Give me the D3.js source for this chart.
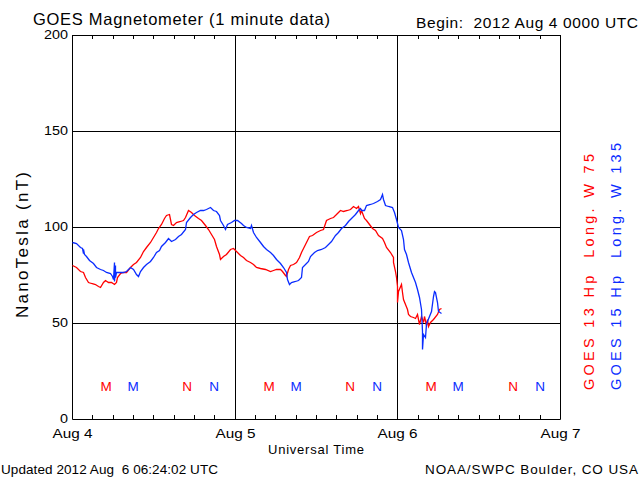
<!DOCTYPE html>
<html><head><meta charset="utf-8">
<script src="https://cdn.jsdelivr.net/npm/d3@7"></script>
<style>
body{margin:0;background:#fff}
svg{display:block}
text{font-family:"Liberation Sans",Arial,sans-serif;white-space:pre}
</style>
</head><body><svg id="c" width="640" height="480"></svg>
<script>
// ---- data ----
const dayLabels = ["Aug 4","Aug 5","Aug 6","Aug 7"];
const yTicks = [0,50,100,150,200];

// GOES 13 (red) : hours since 2012 Aug 4 00:00 UT, nT
const redHours = [0.03,0.62,1.11,1.6,1.99,2.33,2.84,3.32,3.81,4.16,
4.55,4.8,5.29,5.79,6.17,6.42,6.68,7.02,7.5,8.0,
8.49,8.98,9.48,9.97,10.46,10.96,11.45,11.93,12.33,12.67,
13.17,13.56,13.91,14.25,14.55,14.89,15.39,15.88,16.36,16.72,
17.1,17.5,17.99,18.58,19.08,19.57,20.06,20.56,20.94,21.3,
21.64,21.78,22.27,22.77,23.26,23.75,24.25,24.74,25.23,25.73,
26.21,26.7,27.2,27.69,28.43,29.17,29.66,30.16,30.65,31.04,
31.38,31.63,31.87,32.12,32.61,33.11,33.5,33.85,34.19,34.59,
34.97,35.48,35.96,36.55,37.04,37.54,38.03,38.52,39.02,39.51,
39.99,40.5,40.98,41.47,41.87,42.21,42.46,42.71,43.05,43.45,
43.83,44.19,44.68,45.16,45.67,46.01,46.4,46.89,47.29,47.38,
47.63,47.78,47.88,47.98,48.12,48.47,48.62,48.86,49.11,49.36,
49.59,49.84,50.33,50.58,50.83,51.07,51.22,51.43,51.72,51.91,
52.21,52.31,52.55,52.8,53.29,53.79,54.17,54.42];
const redValues = [80.4,79,77.3,76.4,73.8,71.2,70.7,70.3,69.5,68.9,
71.2,72.4,71.5,71.5,70.3,71.2,73.8,75.9,76.4,76.8,
79,80.8,81.6,84.2,87.7,89.5,92,94.7,97.3,99.6,
101.7,104.6,106.4,106.9,101.7,100.8,102.5,102.9,103.9,105.1,
108.6,107.7,106,104.6,103.4,101.1,99,96.4,93.8,90.3,
86,83.4,85.1,86,88.6,89,87.7,85.5,84.2,82.9,
82,80.8,79.4,78.5,78.1,77.3,77.8,78.1,78.1,77.3,
75,74.7,78.1,80.3,80.8,81.6,84.2,87.2,90.3,92.4,
95.2,95.9,97.3,98.2,99,103.4,104.6,105.1,106.9,108.6,
108.1,108.6,109.5,110.9,109.8,110.9,107.4,108.6,104.6,103.4,
101.7,99.4,98.2,95.9,94.1,92,89.5,86.8,84.2,81.6,
77.3,73.8,69.5,61,66.8,70.3,66,62.5,59.9,57.3,
54.7,53.8,53.3,52.6,54.7,52.1,49.5,53.8,50.3,53.8,
49.1,52.1,48.6,50.3,52.1,54.7,57.3,57.8];

// GOES 15 (blue)
const blueHours = [0.03,0.62,1.11,1.45,1.55,1.65,1.75,2.1,2.58,3.07,
3.57,4.06,4.55,5.05,5.54,5.94,6.12,6.17,6.22,6.3,
6.4,6.53,7.02,7.5,8.0,8.49,8.98,9.48,9.72,10.07,
10.46,10.96,11.45,11.93,12.44,12.82,13.17,13.66,14.15,14.65,
15.14,15.63,16.13,16.61,16.86,17.35,17.84,18.34,18.83,19.32,
19.82,20.31,20.79,21.3,21.64,21.89,22.27,22.63,22.92,23.41,
23.9,24.4,24.89,25.28,25.73,26.29,26.44,26.7,27.2,27.69,
28.18,28.68,29.17,29.66,30.16,30.65,31.13,31.53,31.72,32.02,
32.37,32.86,33.35,33.75,33.9,34.34,34.83,35.18,35.67,36.15,
36.8,37.29,37.78,38.28,38.77,39.26,39.76,40.24,40.73,41.24,
41.72,42.21,42.56,42.71,43.05,43.45,43.94,44.43,44.93,45.42,
45.67,45.9,46.15,46.64,47.14,47.48,47.78,48.12,48.47,48.77,
48.96,49.25,49.59,49.95,50.33,50.58,50.83,51.22,51.43,51.57,
51.66,51.81,52.06,52.21,52.4,52.7,52.9,53.2,53.39,53.58,
53.79,54.03,54.38];
const blueValues = [92,91.5,89.5,89,86.5,88.5,86,85,83,81,
79,78,77.6,76.8,75.9,74.7,73,82,72,80,
74,76.4,76.4,76.4,77.3,79,78,75.5,74.7,77.3,
79,80.8,82.5,84.2,86.8,88,90.3,92,94.1,92.9,
93.8,95.2,96.4,99,102.5,105.1,106.9,107.7,108.6,109.1,
109.5,110.3,109.1,108.1,106,103.4,101.1,99,101.7,102.5,
103.4,103.4,102.2,100.8,99.9,99.4,101,97.3,94.7,92.4,
90.3,88.6,87.2,85.5,83.4,81.3,79,76.4,72.9,70.3,
71.2,72.1,72.6,73.8,79,80.8,82.5,85.1,86.8,88.2,
88.6,89.5,91.2,92.9,95.6,97.3,99.4,101.1,102.9,105.1,
106.9,109.1,109.8,108.6,109.1,111.2,112.1,112.6,113.3,114.7,
117.3,114.7,111.6,110.9,110.3,107.7,104.3,99.9,98.2,93.8,
88.6,86,81.6,76.4,73.8,71.2,67.7,63.3,57.3,46,
36.4,44.2,42.5,49.5,51.2,53.8,56.4,64.2,66.8,66,
60.7,56.4,55];

// local midnight (M) / noon (N) markers
const redMarkerHours = [5,17,29,41,53,65];
const blueMarkerHours = [9,21,33,45,57,69];
const markerLabels = ["M","N","M","N","M","N"];

const RED = "#ff0000", BLUE = "#0a2cff";

// ---- chart ----
const svg = d3.select("#c");
svg.append("rect").attr("width",640).attr("height",480).attr("fill","#fff");

const x = d3.scaleLinear().domain([0,72]).rangeRound([72,560]);
const y = d3.scaleLinear().domain([0,200]).rangeRound([419,35]);

function styleAxis(g){ g.attr("font-family",null).attr("font-size",null); }

// grid
svg.append("g").attr("transform","translate(72,0)")
  .call(d3.axisLeft(y).tickValues([50,100,150]).tickSize(-488).tickFormat(""))
  .call(g=>g.select(".domain").remove());
svg.append("g").attr("transform","translate(0,419)")
  .call(d3.axisBottom(x).tickValues([24,48]).tickSize(-384).tickFormat(""))
  .call(g=>g.select(".domain").remove());

// bottom axis
svg.append("g").attr("transform","translate(0,419)")
  .call(d3.axisBottom(x).tickValues(d3.range(0,73,3)).tickSizeInner(-4).tickSizeOuter(0)
        .tickPadding(10).tickFormat(d => d%24===0 ? dayLabels[d/24] : ""))
  .call(styleAxis)
  .call(g=>g.selectAll("text").attr("font-size",13)
        .attr("textLength",function(){return this.textContent ? 40 : null;})
        .attr("lengthAdjust","spacingAndGlyphs"));
// top axis
svg.append("g").attr("transform","translate(0,35)")
  .call(d3.axisTop(x).tickValues(d3.range(0,73,3)).tickSizeInner(-4).tickSizeOuter(0).tickFormat(""));
// left axis
svg.append("g").attr("transform","translate(72,0)")
  .call(d3.axisLeft(y).tickValues(yTicks).tickSize(0).tickPadding(4))
  .call(styleAxis)
  .call(g=>g.selectAll("text").attr("font-size",12)
        .attr("textLength",d=>String(d).length*8).attr("lengthAdjust","spacingAndGlyphs"));
// right axis
svg.append("g").attr("transform","translate(560,0)")
  .call(d3.axisRight(y).tickValues([]).tickSizeOuter(0));

// lines
const lines = svg.append("g").attr("transform","translate(0.5,0.5)");
const redLine = d3.line().x((d,i)=>x(redHours[i])).y(d=>y(d));
const blueLine = d3.line().x((d,i)=>x(blueHours[i])).y(d=>y(d));
lines.append("path").attr("d",redLine(redValues)).attr("fill","none").attr("stroke",RED).attr("stroke-width",1.3);
lines.append("path").attr("d",blueLine(blueValues)).attr("fill","none").attr("stroke",BLUE).attr("stroke-width",1.3);

// M/N markers
svg.append("g").selectAll("text").data(redMarkerHours).join("text")
  .attr("x",d=>x(d)).attr("y",391).attr("text-anchor","middle").attr("font-size",13.5)
  .attr("fill",RED).text((d,i)=>markerLabels[i]);
svg.append("g").selectAll("text").data(blueMarkerHours).join("text")
  .attr("x",d=>x(d)).attr("y",391).attr("text-anchor","middle").attr("font-size",13.5)
  .attr("fill",BLUE).text((d,i)=>markerLabels[i]);

// texts
svg.append("text").attr("x",33).attr("y",25).attr("font-size",16.5)
  .attr("textLength",297).attr("lengthAdjust","spacing").text("GOES Magnetometer (1 minute data)");
svg.append("text").attr("x",416).attr("y",28).attr("font-size",15.5)
  .attr("textLength",222).attr("lengthAdjust","spacing").text("Begin:  2012 Aug 4 0000 UTC");
svg.append("text").attr("x",316).attr("y",454).attr("font-size",13).attr("text-anchor","middle")
  .attr("textLength",96).attr("lengthAdjust","spacing").text("Universal Time");
svg.append("text").attr("x",1).attr("y",474).attr("font-size",13.5)
  .attr("textLength",217).attr("lengthAdjust","spacing").text("Updated 2012 Aug  6 06:24:02 UTC");
svg.append("text").attr("x",638).attr("y",474).attr("font-size",13.5).attr("text-anchor","end")
  .attr("textLength",213).attr("lengthAdjust","spacing").text("NOAA/SWPC Boulder, CO USA");
svg.append("text").attr("transform","translate(28,245) rotate(-90)").attr("font-size",17)
  .attr("text-anchor","middle").attr("textLength",146).attr("lengthAdjust","spacing").text("NanoTesla (nT)");
svg.append("text").attr("transform","translate(594,390) rotate(-90)").attr("font-size",14.5)
  .attr("fill",RED).attr("textLength",236).attr("lengthAdjust","spacing").text("GOES 13 Hp  Long. W 75");
svg.append("text").attr("transform","translate(621,390) rotate(-90)").attr("font-size",14.5)
  .attr("fill",BLUE).attr("textLength",247).attr("lengthAdjust","spacing").text("GOES 15 Hp  Long. W 135");
</script>
</body></html>
